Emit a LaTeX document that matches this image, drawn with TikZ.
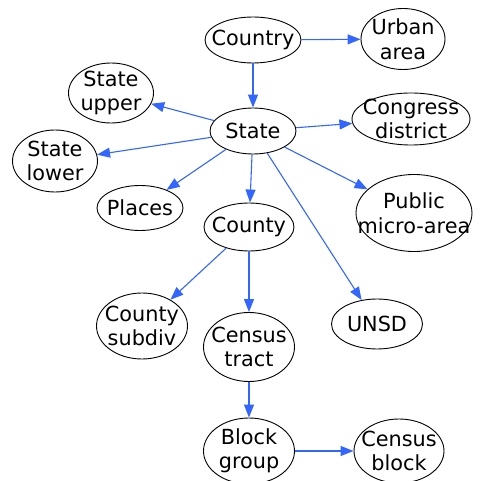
\documentclass[tikz,border=0pt]{standalone}
\usepackage{fontspec}
\setmainfont{DejaVu Sans}
\usetikzlibrary{shapes.geometric,arrows.meta}
\definecolor{edgeblue}{HTML}{3366FF}
\begin{document}
\begin{tikzpicture}[x=1pt,y=-1pt,
  unit/.style 2 args={ellipse,draw=black,line width=0.9pt,inner sep=0pt,
    minimum width=#1,minimum height=#2},
  every label/.style={align=center,inner sep=0pt,font=\fontsize{20.8}{24.5}\selectfont},
  link/.style={draw=edgeblue,line width=1.1pt,-{Triangle[length=13pt,width=10pt]}}]
\useasboundingbox (0,0) rectangle (483,481);
% geography units: fixed ellipses, names centred inside
\node[unit={96pt}{46pt},label={center:Country}] (country) at (253,40) {};
\node[unit={84pt}{61pt},label={center:Urban\\area}] (urban) at (403,39) {};
\node[unit={86pt}{46pt},label={center:State}] (state) at (253,131) {};
\node[unit={85pt}{60pt},label={center:State\\upper}] (supper) at (111,93) {};
\node[unit={85pt}{62pt},label={center:State\\lower}] (slower) at (55,161) {};
\node[unit={118pt}{52pt},label={center:Congress\\district}] (congress) at (411,119) {};
\node[unit={86pt}{45pt},label={center:Places}] (places) at (140,208) {};
\node[unit={90pt}{48pt},label={center:County}] (county) at (249,227) {};
\node[unit={116pt}{77pt},label={center:Public\\micro-area}] (micro) at (414,213) {};
\node[unit={91pt}{66pt},label={center:County\\subdiv}] (subdiv) at (142,326) {};
\node[unit={91pt}{69pt},label={center:Census\\tract}] (tract) at (249,347) {};
\node[unit={91pt}{50pt},label={center:UNSD}] (unsd) at (377,324) {};
\node[unit={91pt}{66pt},label={center:Block\\group}] (bgroup) at (249,451) {};
\node[unit={90pt}{64pt},label={center:Census\\block}] (cblock) at (399,451) {};
% containment links
\draw[link] (country) -- (urban);
\draw[link] (country) -- (state);
\draw[link] (state) -- (supper);
\draw[link] (state) -- (slower);
\draw[link] (state) -- (congress);
\draw[link] (state) -- (places);
\draw[link] (state) -- (county);
\draw[link] (state) -- (micro);
\draw[link] (state) -- (unsd);
\draw[link] (county) -- (subdiv);
\draw[link] (county) -- (tract);
\draw[link] (tract) -- (bgroup);
\draw[link] (bgroup) -- (cblock);
\end{tikzpicture}
\end{document}
